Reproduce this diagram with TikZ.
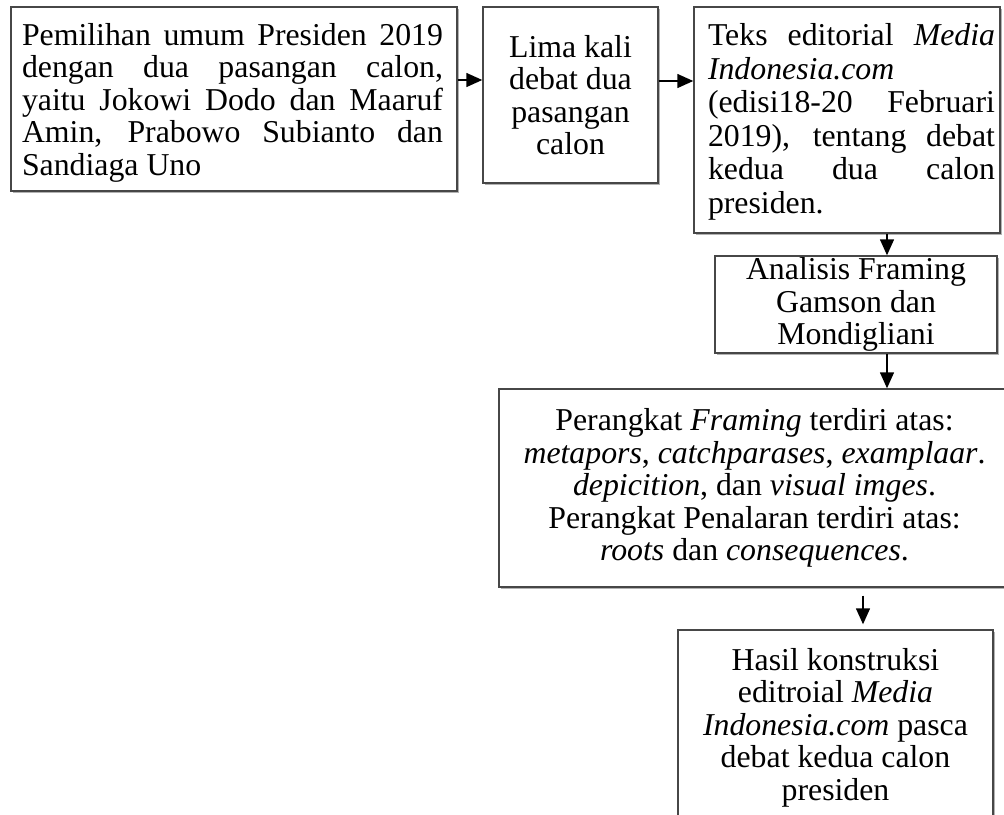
\documentclass[tikz,border=0pt]{standalone}
\usepackage{fontspec}
\setmainfont{Liberation Serif}
\usetikzlibrary{arrows.meta,shadows}
\newcommand{\jline}[2]{\makebox[#1][s]{#2}}
\begin{document}
\begin{tikzpicture}[x=1pt,y=-1pt,
  txt/.style={inner sep=0pt, font=\fontsize{31.8}{32.5}\selectfont},
  box/.style={draw=black!72, line width=1.4pt, rectangle, inner sep=0pt, fill=white, align=center,
     font=\fontsize{31.8}{32.5}\selectfont,
     drop shadow={shadow xshift=2.2pt, shadow yshift=-2.2pt, fill=black, opacity=0.3}},
  arr/.style={-{Triangle[length=16pt,width=14pt]}, line width=1.4pt, black}]
\useasboundingbox (0,0) rectangle (1004,814);

\node[box, minimum width=446pt, minimum height=184pt] (b1) at (234,99) {};
\node[txt, align=left] (t1) at (232.5,102.5) {%
\jline{421pt}{Pemilihan umum Presiden 2019}\\
\jline{421pt}{dengan dua pasangan calon,}\\
\jline{421pt}{yaitu Jokowi Dodo dan Maaruf}\\
\jline{421pt}{Amin, Prabowo Subianto dan}\\
Sandiaga Uno};

\node[box, minimum width=175pt, minimum height=176pt] (b2) at (570.5,95) {Lima kali\\debat dua\\pasangan\\calon};

\node[box, minimum width=306pt, minimum height=226pt] (b3) at (847,120) {};
\node[txt, align=left, font=\fontsize{31.8}{33.5}\selectfont] (t3) at (851.5,122) {%
\jline{287pt}{Teks editorial \textit{Media}}\\
\textit{Indonesia.com}\\
\jline{287pt}{(edisi18-20 Februari}\\
\jline{287pt}{2019), tentang debat}\\
\jline{287pt}{kedua dua calon}\\
presiden.};

\node[box, minimum width=282pt, minimum height=97pt] (b4) at (856,304.5) {Analisis Framing\\Gamson dan\\Mondigliani};

\node[box, minimum width=511pt, minimum height=198pt] (b5) at (754.5,488) {Perangkat \textit{Framing} terdiri atas:\\
\textit{metapors}, \textit{catchparases}, \textit{examplaar}.\\
\textit{depicition}, dan \textit{visual imges}.\\
Perangkat Penalaran terdiri atas:\\
\textit{roots} dan \textit{consequences}.};

\node[box, minimum width=315pt, minimum height=195pt] (b6) at (835.5,727.5) {Hasil konstruksi\\editroial \textit{Media}\\\textit{Indonesia.com} pasca\\debat kedua calon\\presiden};

\draw[arr] ([yshift=19pt]b1.east) -- ([yshift=15pt]b2.west);
\draw[arr] ([yshift=14pt]b2.east) -- ([yshift=39pt]b3.west);
\draw[arr] ([xshift=40pt]b3.south) -- ([xshift=31pt]b4.north);
\draw[arr] ([xshift=31pt]b4.south) -- ([xshift=132.5pt]b5.north);
\draw[arr] ([xshift=108.5pt,yshift=-8pt]b5.south) -- ([xshift=27.5pt,yshift=5pt]b6.north);
\end{tikzpicture}
\end{document}
